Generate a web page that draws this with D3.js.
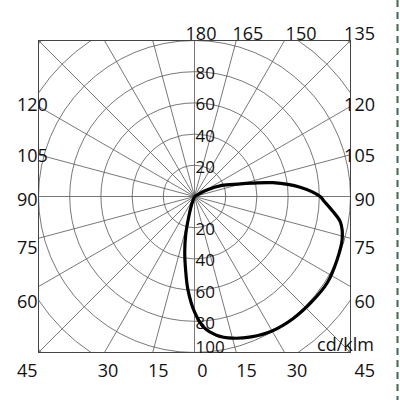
<!DOCTYPE html>
<html>
<head>
<meta charset="utf-8">
<script src="https://cdn.jsdelivr.net/npm/d3@7"></script>
<style>
  body { margin: 0; background: #fff; }
  svg { display: block; }
  text { font-family: "Open Sans", sans-serif; fill: #111; }
</style>
</head>
<body>
<svg id="polar_chart" width="400" height="400"></svg>
<script>
// luminous intensity curve, gamma in degrees (0 = straight down, + to the right)
var gammaDeg = [-24, -20, -16, -13, -10, -7, -4, 0, 4, 9, 15, 22, 30, 39, 48, 57, 66, 74, 80, 84, 88, 90, 95, 100, 103, 106, 112, 118, 124];
var intensity = [0, 5, 13, 25, 36, 47, 60, 74, 84, 90, 94, 97, 99.5, 100.6, 101, 101.5, 100, 98.5, 95, 89, 83, 80.5, 68, 51, 38, 29, 19, 9, 0];

var ringValues = [20, 40, 60, 80, 100, 120, 140];
var ringLabelsUp = [20, 40, 60, 80];
var ringLabelsDown = [20, 40, 60, 80, 100];
var spokeAngles = d3.range(-165, 181, 15);   // -165 .. 180
var unitLabel = "cd/klm";

var svg = d3.select("#polar_chart");
const cx = 194.5, cy = 196.5, half = 156;
const box = {left: cx - half, right: cx + half, top: cy - half, bottom: cy + half};

var rScale = d3.scaleLinear().domain([0, 100]).range([0, half]);
const rad = d => d * Math.PI / 180;

svg.append("clipPath").attr("id", "boxclip")
    .append("rect")
    .attr("x", box.left).attr("y", box.top)
    .attr("width", 2 * half).attr("height", 2 * half);

var grid = svg.append("g").attr("clip-path", "url(#boxclip)")
    .append("g")
    .attr("transform", "translate(" + cx + "," + cy + ")");

grid.selectAll("circle.ring")
    .data(ringValues).enter()
    .append("circle").classed("ring", true)
    .attr("r", d => rScale(d))
    .attr("fill", "none")
    .attr("stroke", "#555")
    .attr("stroke-width", 0.8);

grid.selectAll("line.spoke")
    .data(spokeAngles).enter()
    .append("line").classed("spoke", true)
    .attr("x1", 0).attr("y1", 0)
    .attr("x2", d => Math.sin(rad(d)) * rScale(150))
    .attr("y2", d => Math.cos(rad(d)) * rScale(150))
    .attr("stroke", "#555")
    .attr("stroke-width", 0.8);

svg.append("rect")
    .attr("x", box.left).attr("y", box.top)
    .attr("width", 2 * half).attr("height", 2 * half)
    .attr("fill", "none")
    .attr("stroke", "#444")
    .attr("stroke-width", 1);

// angle labels round the frame
spokeAngles.filter(d => !(d >= -165 && d <= -135)).forEach(function(g) {
    var dx = Math.sin(rad(g)), dy = Math.cos(rad(g));
    var t = half / Math.max(Math.abs(dx), Math.abs(dy));
    var hx = cx + t * dx, hy = cy + t * dy;
    var corner = Math.abs(Math.abs(dx) - Math.abs(dy)) < 1e-6;
    var side = Math.abs(dx) > Math.abs(dy) + 1e-6 || corner;
    var x, y, anchor;
    if (side) {
        anchor = dx < 0 ? "start" : "end";
        x = dx < 0 ? 17 : 375;
    } else {
        anchor = "middle";
        x = dy > 0 ? hx + 8 + 9 * dx : hx + 6.5 + 20 * Math.abs(dx);
    }
    if (corner || !side) {
        y = dy > 0 ? 377 : 39.5;
    } else {
        var c = Math.cos(rad(g));
        y = hy + 3 + 24 * Math.max(c, 0) + 10 * Math.min(c, 0) + 6.5;
    }
    svg.append("text")
        .attr("x", x).attr("y", y)
        .attr("text-anchor", anchor)
        .attr("font-size", 18)
        .text(Math.abs(g));
});

// intensity labels along the vertical axis
svg.selectAll("text.rup")
    .data(ringLabelsUp).enter()
    .append("text").classed("rup", true)
    .attr("x", cx + 1)
    .attr("y", d => cy - rScale(d) + 7.5)
    .attr("font-size", 17)
    .text(d => d);

svg.selectAll("text.rdown")
    .data(ringLabelsDown).enter()
    .append("text").classed("rdown", true)
    .attr("x", cx + 1)
    .attr("y", d => Math.min(cy + rScale(d) + 1.5, box.bottom - 6) + 6)
    .attr("font-size", 17)
    .text(d => d);

svg.append("text")
    .attr("x", 374).attr("y", 351)
    .attr("text-anchor", "end")
    .attr("font-size", 18)
    .text(unitLabel);

// the curve
var curveData = gammaDeg.map((g, i) => [Math.PI - rad(g), rScale(intensity[i])]);
var line = d3.lineRadial()
    .angle(d => d[0])
    .radius(d => d[1])
    .curve(d3.curveCatmullRom.alpha(0.5));

svg.append("path")
    .attr("transform", "translate(" + cx + "," + cy + ")")
    .attr("d", line(curveData))
    .attr("fill", "none")
    .attr("stroke", "#000")
    .attr("stroke-width", 3.2)
    .attr("stroke-linejoin", "round");

// dashed edge strip on the far right
svg.append("line")
    .attr("x1", 397.5).attr("y1", 0)
    .attr("x2", 397.5).attr("y2", 400)
    .attr("stroke", "#3d6b4f")
    .attr("stroke-width", 2)
    .attr("stroke-dasharray", "7,5");
</script>
</body>
</html>
